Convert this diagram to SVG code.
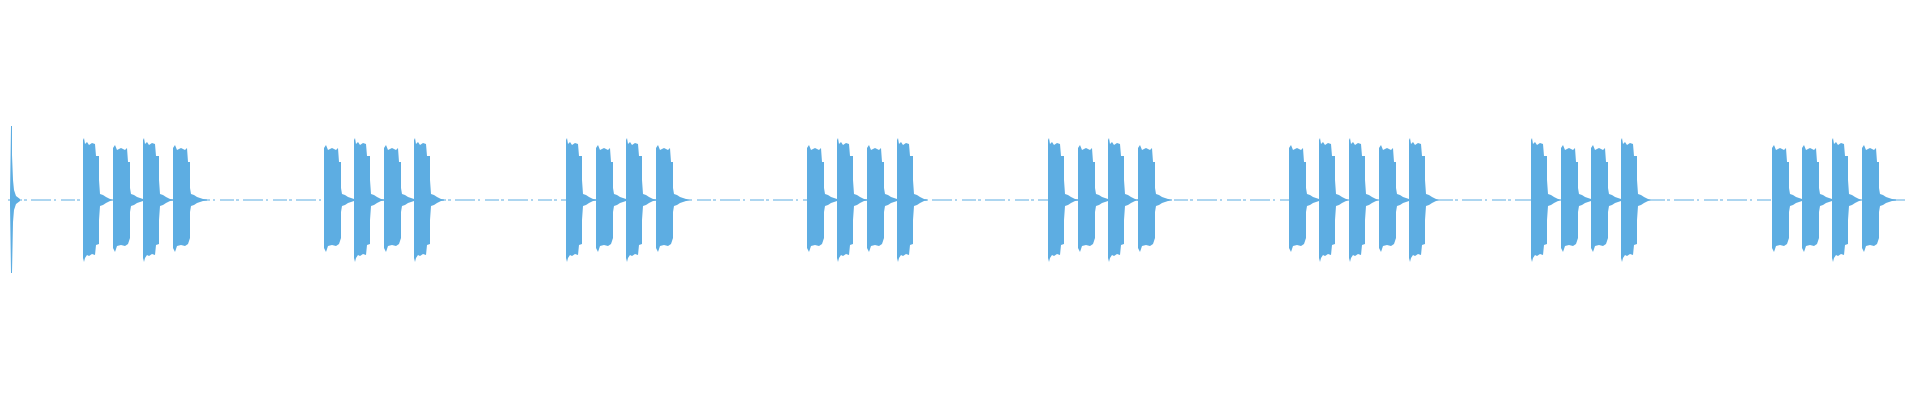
<svg xmlns="http://www.w3.org/2000/svg" width="1920" height="400" viewBox="0 0 1920 400">
<defs>
<style>.w{fill:#5dade2}.b{stroke:#5dade2;stroke-width:1;stroke-dasharray:14 2 3 4 20 3 2 5}</style>
<path id="b" class="w" d="M0,-2 L0,-60 L1,-62 L2,-56 L4,-58 L6,-55 L9,-57 L12,-56 L13,-44 L16,-44 L16,-20 L17,-6 L20,-5 L23,-3 L27,-1 L30,-0.6 L30,0.6 L27,1 L23,3 L20,5 L17,6 L16,20 L16,44 L13,45 L12,55 L9,54 L6,56 L4,55 L2,58 L1,62 L0,58 L0,2 Z"/>
<path id="c" class="w" d="M0,-2 L0,-52 L2,-55 L4,-50 L8,-52 L12,-50 L14,-52 L15,-38 L17,-38 L17,-12 L18,-6 L21,-5 L24,-3 L30,-1 L34,-0.6 L34,0.6 L30,1 L24,3 L21,5 L18,6 L17,12 L17,38 L15,44 L12,46 L8,45 L4,46 L2,52 L0,48 L0,2 Z"/>
<g id="g"><use href="#b" x="0"/><use href="#c" x="30"/><use href="#b" x="60"/><use href="#c" x="90"/></g>
</defs>
<g id="connectors"><line class="b" x1="8" y1="200" x2="1905" y2="200"/></g>
<g id="spike"><path class="w" d="M10,196 L11,126 L12,126 L12,155 L13,180 L14,190 L16,196 L20,199 L20,201 L16,204 L14,210 L13,222 L12,273 L11,273 L10,205 Z"/></g>
<g transform="translate(0,200)">
<g id="n1"><use href="#g" x="83"/></g>
<g id="n2"><use href="#c" x="324"/><use href="#b" x="354"/><use href="#c" x="384"/><use href="#b" x="414"/></g>
<g id="n3"><use href="#g" x="566"/></g>
<g id="n4"><use href="#c" x="807"/><use href="#b" x="837"/><use href="#c" x="867"/><use href="#b" x="897"/></g>
<g id="n5"><use href="#g" x="1048"/></g>
<g id="n6"><use href="#c" x="1289"/><use href="#b" x="1319"/><use href="#b" x="1349"/><use href="#c" x="1379"/><use href="#b" x="1409"/></g>
<g id="n7"><use href="#b" x="1531"/><use href="#c" x="1561"/><use href="#c" x="1591"/><use href="#b" x="1621"/></g>
<g id="n8"><use href="#c" x="1772"/><use href="#c" x="1802"/><use href="#b" x="1832"/><use href="#c" x="1862"/></g>
</g>
</svg>
